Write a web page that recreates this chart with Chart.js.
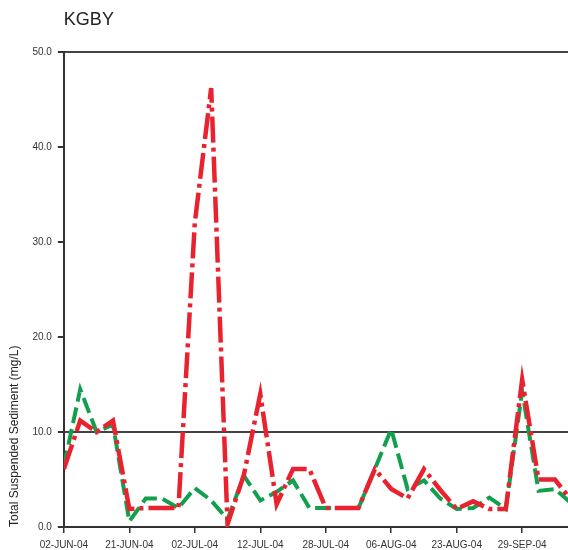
<!DOCTYPE html>
<html>
<head>
<meta charset="utf-8">
<script src="https://cdn.jsdelivr.net/npm/chart.js@4.4.0/dist/chart.umd.min.js"></script>
<style>
  html, body { margin: 0; padding: 0; background: #fff; overflow: hidden; }
  #wrap { width: 568px; height: 550px; overflow: hidden; }
</style>
</head>
<body>
<div id="wrap"><canvas id="chart" width="568" height="557"></canvas></div>
<script>
// KGBY - total suspended sediment, samples in collection order
var tickLabels = ['02-JUN-04', '21-JUN-04', '02-JUL-04', '12-JUL-04', '28-JUL-04', '06-AUG-04', '23-AUG-04', '29-SEP-04'];
var samplesPerLabel = 4;

var tssRed = [6.1, 11.2, 10.0, 11.2, 1.9, 2.0, 2.0, 2.0, 32.0, 46.2, 0.3, 5.5, 14.0, 2.4, 6.1, 6.1,
              2.0, 2.0, 2.0, 6.1, 4.0, 3.0, 6.1, 3.9, 1.9, 2.7, 1.9, 1.9, 15.5, 5.0, 5.0, 2.8];
var tssGreen = [6.4, 14.5, 10.0, 10.8, 0.6, 3.0, 3.0, 2.0, 4.1, 2.8, 0.8, 5.4, 2.8, 3.7, 4.9, 2.0,
                2.0, 2.0, 2.0, 6.1, 10.3, 4.0, 4.9, 3.0, 1.9, 2.0, 3.1, 1.9, 14.3, 3.8, 4.0, 2.5];

var guideline = 10; // reference line across the plot
var yMax = 50;

var fontFamily = "Arial, 'Liberation Sans', sans-serif";

function toPoints(values) {
    return values.map(function(v, i) { return { x: i, y: v }; });
}

var ctx = document.getElementById('chart').getContext('2d');

var chart = new Chart(ctx, {
    type: 'line',
    data: {
        datasets: [{
            label: 'red',
            data: toPoints(tssRed),
            borderColor: '#e8232f',
            borderWidth: 4.5,
            borderDash: [26, 5, 4, 5]
        }, {
            label: 'green',
            data: toPoints(tssGreen),
            borderColor: '#12a04e',
            borderWidth: 4,
            borderDash: [16, 6]
        }]
    },
    options: {
        responsive: false,
        animation: false,
        layout: { padding: { left: 0, right: 0, top: 0, bottom: 0 } },
        elements: {
            point: { radius: 0 },
            line: { tension: 0, fill: false, borderCapStyle: 'butt', borderJoinStyle: 'miter' }
        },
        plugins: {
            legend: { display: false },
            tooltip: { enabled: false },
            title: {
                display: true,
                text: 'KGBY',
                align: 'start',
                fullSize: false,
                color: '#222',
                font: { family: fontFamily, size: 18, weight: 'normal' },
                padding: { top: 9, bottom: 21.4 }
            }
        },
        scales: {
            x: {
                type: 'linear',
                min: 0,
                max: 30.8,
                border: { color: '#333', width: 2 },
                grid: { drawOnChartArea: false, tickColor: '#333', tickLength: 6, lineWidth: 1.5 },
                ticks: {
                    stepSize: samplesPerLabel,
                    includeBounds: false,
                    autoSkip: false,
                    maxRotation: 0,
                    padding: 6,
                    color: '#333',
                    font: { family: fontFamily, size: 10 },
                    callback: function(v) {
                        var label = tickLabels[v / samplesPerLabel];
                        return label === undefined ? '' : label;
                    }
                }
            },
            y: {
                min: 0,
                max: yMax,
                border: { color: '#333', width: 2 },
                grid: {
                    color: function(c) {
                        if (c.tick && (c.tick.value === guideline || c.tick.value === yMax)) return '#444';
                        return 'rgba(0,0,0,0)';
                    },
                    lineWidth: 2,
                    tickColor: '#333',
                    tickLength: 6
                },
                ticks: {
                    stepSize: 10,
                    padding: 6,
                    color: '#333',
                    font: { family: fontFamily, size: 10 },
                    callback: function(v) { return v.toFixed(1); }
                },
                title: {
                    display: true,
                    text: 'Total Suspended Sediment (mg/L)',
                    align: 'start',
                    color: '#222',
                    font: { family: fontFamily, size: 12 },
                    padding: { top: 7, bottom: 5 }
                }
            }
        }
    }
});
</script>
</body>
</html>
